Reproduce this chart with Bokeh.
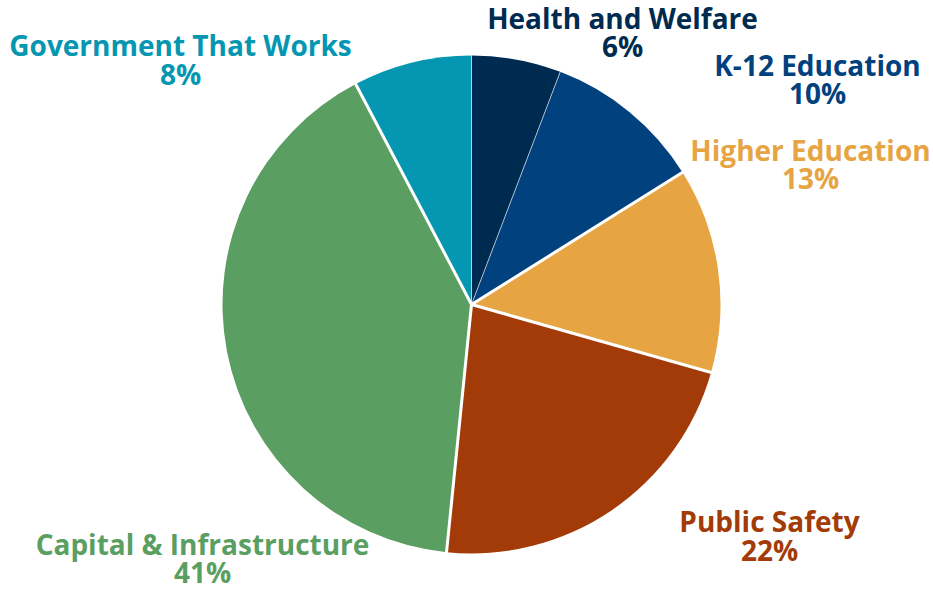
import math
from bokeh.plotting import figure
from bokeh.models import Range1d, ColumnDataSource
from bokeh.core.properties import value
from bokeh.embed import file_html
from bokeh.resources import INLINE

categories = ["Health and Welfare", "K-12 Education", "Higher Education",
              "Public Safety", "Capital & Infrastructure", "Government That Works"]
shares = [5.8, 10.3, 13.3, 22.2, 40.7, 7.7]
colors = ["#002B50", "#00417E", "#E6A442", "#A23B08", "#5A9E62", "#0597B1"]
pct_labels = [f"{round(v)}%" for v in shares]

# label layout (screen px, middle of first line)
label_x = [622, 817, 810, 769, 202, 180]
label_y = [19, 66, 151, 522.5, 545, 46.5]
sep_widths = [0.6, 3, 3, 3, 3, 0.6]  # boundary after each slice's end

W, H = 933, 592
p = figure(width=W, height=H, output_backend="svg", toolbar_location=None,
           x_range=Range1d(0, W), y_range=Range1d(0, H),
           min_border=0)
p.axis.visible = False
p.grid.visible = False
p.outline_line_color = None
p.background_fill_color = "white"

cx, cy, r = 471, H - 304, 249
total = sum(shares)
cum = [0]
for v in shares:
    cum.append(cum[-1] + v)
starts = [math.pi / 2 - 2 * math.pi * cum[i + 1] / total for i in range(len(shares))]
ends = [math.pi / 2 - 2 * math.pi * cum[i] / total for i in range(len(shares))]

src = ColumnDataSource(dict(start=starts, end=ends, color=colors))
p.wedge(x=cx, y=cy, radius=r, start_angle="start", end_angle="end",
        fill_color="color", line_color=None, source=src)

# separators at slice boundaries
bx0, by0, bx1, by1, bw = [], [], [], [], []
for i in range(len(shares)):
    a = math.pi / 2 - 2 * math.pi * cum[i] / total
    bx0.append(cx); by0.append(cy)
    bx1.append(cx + (r + 2) * math.cos(a)); by1.append(cy + (r + 2) * math.sin(a))
    bw.append(sep_widths[i - 1])
p.segment(x0=bx0, y0=by0, x1=bx1, y1=by1, line_color="white", line_width=bw)

ly1 = [H - (y - 2) for y in label_y]
ly2 = [H - (y - 2 + 28.5) for y in label_y]
lsrc = ColumnDataSource(dict(x=label_x, y1=ly1, y2=ly2, name=categories,
                             pct=pct_labels, color=colors))
for ycol, tcol in (("y1", "name"), ("y2", "pct")):
    p.text(x="x", y=ycol, text=tcol, text_color="color", source=lsrc,
           text_font=value("Open Sans"), text_font_style="bold",
           text_font_size="28px", text_align="center", text_baseline="middle")

open("out.html", "w").write(file_html(p, INLINE))
